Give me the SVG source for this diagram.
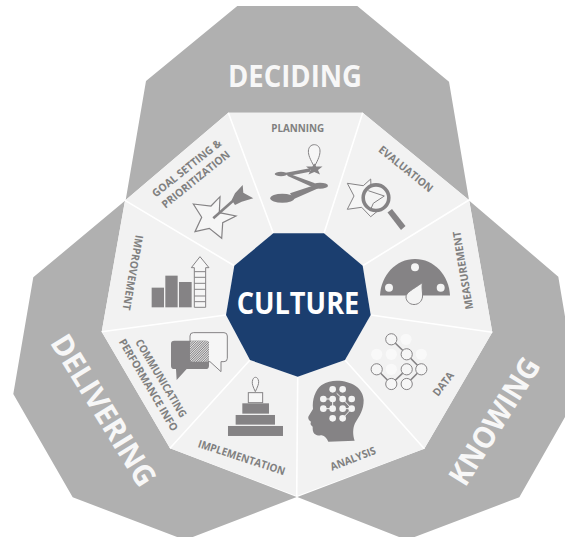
<svg xmlns="http://www.w3.org/2000/svg" width="565" height="537" viewBox="0 0 565 537">
<style>
text{font-family:"Open Sans","Liberation Sans",sans-serif;font-weight:700;text-anchor:middle}
.band{fill:#b0b0b0}
.petal{fill:#f2f2f2}
.big{fill:#f7f7f7;font-size:30px}
.lab{fill:#808080;font-size:10.8px}
.ico{fill:#858385}
.out{fill:#f6f6f6;stroke:#858385;stroke-width:3}
.div{stroke:#fff;stroke-width:1.6;fill:none}
.dot{fill:#f4f4f4}
.fnt{fill:#f9f9f9}
</style>
<defs>
<pattern id="hatch" width="5" height="5" patternUnits="userSpaceOnUse" patternTransform="rotate(45)">
<rect width="5" height="5" fill="#e6e6e6"/><rect width="2.5" height="5" fill="#858385"/>
</pattern>
</defs>
<rect width="565" height="537" fill="#fff"/>
<g id="deciding">
<polygon class="band" points="237.3,6 357.3,6 449,81.7 469,200 362.7,112.7 228.3,112.7 125.7,200 146,81"/>
<text class="big" x="295" y="87" textLength="134" lengthAdjust="spacingAndGlyphs">DECIDING</text>
</g>
<g id="delivering">
<polygon class="band" points="125,200.7 33.3,277.3 13.3,394 72.7,497.3 185,540 296.7,497 170,448.3 101.7,331.7"/>
<text class="big" transform="translate(104,410) rotate(58.4)" y="11" textLength="172" lengthAdjust="spacingAndGlyphs">DELIVERING</text>
</g>
<g id="knowing">
<polygon class="band" points="469.3,200.7 558.3,276.7 578,394 519.3,497.3 406.7,540 297.3,497 424.3,448.7 492.3,332.3"/>
<text class="big" transform="translate(494,421) rotate(-58)" y="11" textLength="144" lengthAdjust="spacingAndGlyphs">KNOWING</text>
</g>
<g id="goal-setting">
<polygon class="petal" points="273.3,233.3 228.3,112.7 125,200.4 234.3,265.7"/>
<text class="lab" transform="translate(186.7,168.3) rotate(-38.6)" y="3.7" textLength="85" lengthAdjust="spacingAndGlyphs">GOAL SETTING &amp;</text>
<text class="lab" transform="translate(195.8,179.4) rotate(-39)" y="3.7" textLength="84" lengthAdjust="spacingAndGlyphs">PRIORITIZATION</text>
<polygon class="out" style="stroke-width:1.2" points="193.3,204 211,206 220,196.7 219.3,212.7 236,216 222.7,222.7 221.7,238.3 209.3,228.3 195,231.7 201.7,217.3"/>
<line x1="213.3" y1="218.3" x2="235" y2="199" stroke="#858385" stroke-width="2.6"/>
<polygon class="ico" points="242.7,185 243.3,192.7 253.3,198.3 241.7,201.7 235,205 231.7,200 235,193.3"/>
</g>
<g id="planning">
<polygon class="petal" points="324,233.3 362.7,112.7 228.3,112.7 273.3,233.3"/>
<text class="lab" x="297.7" y="132" textLength="53" lengthAdjust="spacingAndGlyphs">PLANNING</text>
<path d="M314.3,166.7C310,159 308.300,155 308.4,151C308.6,147 311,144.700 314.300,144.700C317.500,144.700 320,147 320,151C320,155 318.600,159 314.300,166.7Z" fill="#f6f6f6" stroke="#858385" stroke-width="1"/>
<polygon class="ico" points="314.300,163.500 316.200,166.500 322.500,166.500 318,170 320,174.500 314.300,172 308.500,174.500 310.500,170 306,166.500 312.400,166.500"/>
<ellipse class="ico" cx="281" cy="174" rx="6.300" ry="2.200"/>
<ellipse class="ico" cx="320" cy="185.7" rx="8" ry="3"/>
<ellipse class="ico" cx="282.3" cy="198.3" rx="12" ry="4.500"/>
<polygon class="ico" points="285.700,172.700 310,168.300 310,171.700 288,176"/>
<polygon class="ico" points="287.700,173.300 315,183.300 311.700,186.700 287.700,176"/>
<polygon class="ico" points="290,193.300 315,185 318.300,188.300 293.300,199.300"/>
</g>
<g id="evaluation">
<polygon class="petal" points="362.7,265.7 469,200 362.7,112.7 324,233.3"/>
<text class="lab" transform="translate(405.8,169) rotate(39)" y="3.7" textLength="66" lengthAdjust="spacingAndGlyphs">EVALUATION</text>
<polygon class="out" style="stroke-width:1" points="347.3,183.300 363.3,185.700 370.700,179 371,187 385,205 370.700,216.700 361.700,207.300 347.300,209.300 354,196"/>
<polygon class="ico" points="387.500,212.500 392,209 405.500,226 401,230"/>
<circle cx="376" cy="197.7" r="12.800" fill="#f4f4f4" stroke="#858385" stroke-width="3.600"/>
<path d="M368.300,190.700L384.300,196L373.300,203.300L370,211" fill="none" stroke="#858385" stroke-width="1"/>
</g>
<g id="measurement">
<polygon class="petal" points="370.7,315 492.3,332.3 469,200 362.7,265.7"/>
<text class="lab" transform="translate(463,270.5) rotate(-99.5)" y="3.7" textLength="79" lengthAdjust="spacingAndGlyphs">MEASUREMENT</text>
<path class="ico" d="M380,295.500C381,275 396,259 415,259C434,259 449,275 450,295.500Z"/>
<circle class="dot" cx="415" cy="267.3" r="4"/>
<circle class="dot" cx="389" cy="287.7" r="4"/>
<circle class="dot" cx="440.7" cy="287.7" r="4"/>
<path d="M422.3,282.7C421.500,289 423,293 422.500,297C421.800,301.500 418.500,304.500 414,304.500C409.500,304.500 406,301 406,297C406,292.500 412,290 422.3,282.7Z" fill="#f4f4f4" stroke="#858385" stroke-width="1"/>
</g>
<g id="data">
<polygon class="petal" points="345,360 424.3,448.7 492.3,332.3 370.7,315"/>
<text class="lab" transform="translate(443.3,384) rotate(-52)" y="3.7" textLength="27" lengthAdjust="spacingAndGlyphs">DATA</text>
<g class="fnt">
<circle cx="406" cy="339.3" r="5.6"/><circle cx="376.7" cy="354.3" r="5.6"/><circle cx="391.3" cy="354.3" r="5.6"/><circle cx="421.3" cy="354.3" r="5.6"/><circle cx="391.3" cy="369.3" r="5.6"/>
</g>
<path d="M391.3,339.3L406.7,354.3L421.3,369.3L406.7,384M376.7,369.3L391.3,384L406.7,369.3" fill="none" stroke="#858385" stroke-width="1.6"/>
<g fill="#f6f6f6" stroke="#858385" stroke-width="1">
<circle cx="391.3" cy="339.3" r="5.6"/><circle cx="406.7" cy="354.3" r="5.6"/><circle cx="421.3" cy="369.3" r="5.6"/><circle cx="406.7" cy="369.3" r="5.6"/><circle cx="376.7" cy="369.3" r="5.6"/><circle cx="391.3" cy="384" r="5.6"/><circle cx="406.7" cy="384" r="5.6"/>
</g>
</g>
<g id="analysis">
<polygon class="petal" points="297.7,376.7 296.7,496 424.3,448.7 345,360"/>
<text class="lab" transform="translate(353,458.7) rotate(-21.3)" y="3.7" textLength="48" lengthAdjust="spacingAndGlyphs">ANALYSIS</text>
<g transform="translate(280,310) scale(.3333)">
<path class="ico" d="M170,212C215,212 250,235 251,270C251,300 240,315 225,340C218,355 218,375 224,392L145,395C140,385 135,378 125,376C105,378 97,370 98,350C92,345 90,342 93,335C85,330 82,322 88,315L99,297C96,270 105,240 125,225C140,215 155,212 170,212Z"/>
<path d="M170,250L188,267L215,296M158,267L158,296M188,296L215,296L188,325M130,267L158,267M130,296L158,296" fill="none" stroke="#f4f4f4" stroke-width="3"/>
<g class="dot">
<circle cx="158" cy="238" r="10"/><circle cx="188" cy="238" r="10"/><circle cx="130" cy="267" r="10"/><circle cx="158" cy="267" r="10"/><circle cx="188" cy="267" r="10"/><circle cx="215" cy="267" r="10"/><circle cx="130" cy="296" r="10"/><circle cx="158" cy="296" r="10"/><circle cx="188" cy="296" r="10"/><circle cx="215" cy="296" r="10"/><circle cx="158" cy="325" r="10"/><circle cx="188" cy="325" r="10"/>
</g>
</g>
</g>
<g id="implementation">
<polygon class="petal" points="250,360 170,448.3 296.7,496 297.7,376.7"/>
<text class="lab" transform="translate(241.7,457.5) rotate(18.1)" y="3.7" textLength="91" lengthAdjust="spacingAndGlyphs">IMPLEMENTATION</text>
<g transform="translate(90,220) scale(.3333)">
<rect class="ico" x="414" y="618" width="165" height="30"/>
<rect class="ico" x="437" y="585" width="118" height="29"/>
<rect class="ico" x="457" y="550" width="80" height="31"/>
<rect x="475" y="518" width="43" height="30" fill="#f6f6f6" stroke="#858385" stroke-width="3"/>
<path d="M496,515C489,500 486,492 487,485C488,476 492,472 496.500,472C501,472 505,476 506,485C506.500,492 503,500 496,515Z" fill="#f6f6f6" stroke="#858385" stroke-width="3"/>
</g>
</g>
<g id="communicating">
<polygon class="petal" points="226,315 101.7,331.7 170,448.3 250,360"/>
<text class="lab" transform="translate(161,378.3) rotate(59.2)" y="3.7" textLength="89" lengthAdjust="spacingAndGlyphs">COMMUNICATING</text>
<text class="lab" transform="translate(148.3,385) rotate(59.4)" y="3.7" textLength="105" lengthAdjust="spacingAndGlyphs">PERFORMANCE INFO</text>
<g transform="translate(90,220) scale(.3333)">
<path d="M310,338H402Q412,338 412,348V415Q412,425 402,425H393V455L360,425H310Q300,425 300,415V348Q300,338 310,338Z" fill="#f6f6f6" stroke="#858385" stroke-width="3"/>
<path class="ico" d="M253,362H347Q357,362 357,372V437Q357,447 347,447H290L260,480L258,447H253Q243,447 243,437V372Q243,362 253,362Z"/>
<rect x="300" y="362" width="57" height="63" rx="6" fill="url(#hatch)"/>
</g>
</g>
<g id="improvement">
<polygon class="petal" points="234.3,265.7 125,200.4 101.7,331.700 226,315"/>
<text class="lab" transform="translate(132.7,272.5) rotate(100)" y="3.7" textLength="76" lengthAdjust="spacingAndGlyphs">IMPROVEMENT</text>
<g transform="translate(90,220) scale(.3333)">
<rect class="ico" x="185" y="203" width="37" height="59"/>
<rect class="ico" x="226" y="167" width="37" height="95"/>
<rect class="ico" x="267" y="186" width="38" height="76"/>
<polygon points="330,110 357,143 347,143 347,262 313,262 313,143 304,143" fill="#f6f6f6" stroke="#858385" stroke-width="3"/>
<path d="M313,155H347M313,172H347M313,190H347M313,208H347M313,228H347M313,245H347" stroke="#858385" stroke-width="3" fill="none"/>
</g>
</g>
<g id="connectors">
<path class="div" d="M273.3,233.3L228.3,112.7M324,233.3L362.7,112.7M362.700,265.7L469,200M370.7,315L492.3,332.3M345,360L424.3,448.7M297.7,376.700L296.7,496M250,360L170,448.3M226,315L101.7,331.7M234.3,265.7L125,200.4"/>
</g>
<g id="culture">
<polygon fill="#1b3e6f" points="273.3,233.3 324,233.3 362.700,265.7 370.7,315 345,360 297.7,376.7 250,360 226,315 234.3,265.7"/>
<text x="298" y="314" fill="#fff" font-size="30" textLength="122.600" lengthAdjust="spacingAndGlyphs">CULTURE</text>
</g>
</svg>
